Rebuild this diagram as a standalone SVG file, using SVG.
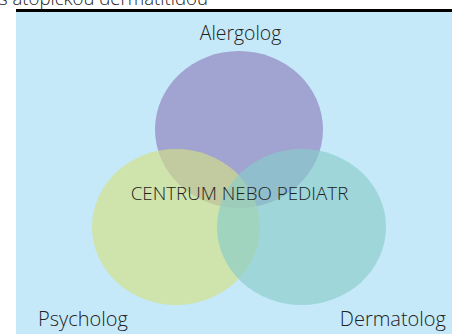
<svg xmlns="http://www.w3.org/2000/svg" width="452" height="334" viewBox="0 0 452 334">
<style>
text{font-family:"Open Sans","Noto Sans","Liberation Sans",sans-serif;font-weight:300;font-size:20px;fill:#222}
.top{font-size:18.6px}
.al{font-size:19.4px}
.ctr{font-size:18.8px}
.c{fill-opacity:0.65}
</style>
<rect width="452" height="334" fill="#ffffff"/>
<text class="top" x="-1" y="5">s atopickou dermatitidou</text>
<rect x="16" y="12" width="436" height="322" fill="#c5e9f9"/>
<rect x="16" y="9" width="436" height="3" fill="#000"/>
<g id="alergolog-circle"><ellipse cx="239" cy="129.5" rx="84" ry="78.5" fill="#a1a3d1"/></g>
<g id="psycholog-circle"><ellipse class="c" cx="176" cy="227" rx="84" ry="78" fill="#d4e084"/></g>
<g id="dermatolog-circle"><ellipse class="c" cx="301.5" cy="227" rx="84.5" ry="78" fill="#89ccc9"/></g>
<g id="labels">
<text class="al" x="240.5" y="40" text-anchor="middle">Alergolog</text>
<text class="ctr" x="239.5" y="200" text-anchor="middle">CENTRUM NEBO PEDIATR</text>
<text x="38" y="326">Psycholog</text>
<text x="446" y="326" text-anchor="end">Dermatolog</text>
</g>
</svg>
